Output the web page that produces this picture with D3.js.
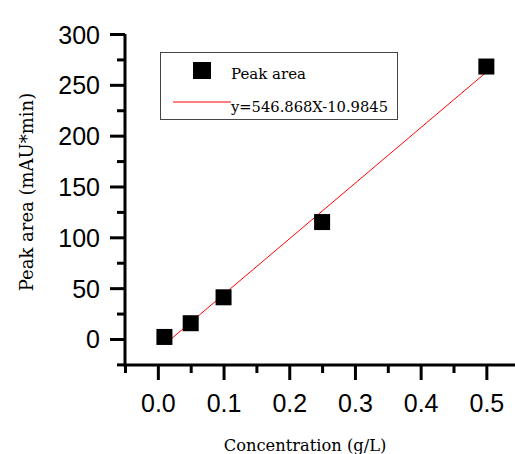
<!DOCTYPE html>
<html>
<head>
<meta charset="utf-8">
<script src="https://cdn.jsdelivr.net/npm/d3@7"></script>
<style>
  html, body { margin: 0; padding: 0; background: #fff; }
  svg { display: block; }
</style>
</head>
<body>
<svg id="chart" width="515" height="454"></svg>
<script>
// Calibration data: concentration (g/L) vs peak area (mAU*min)
const concentration = [0.01, 0.05, 0.10, 0.25, 0.50];
const peakArea = [2, 15.5, 41, 115, 268];
// Linear fit y = slope * x + intercept
const fitSlope = 546.868;
const fitIntercept = -10.9845;
const fitRange = [0.01, 0.50];
const xTicks = [0.0, 0.1, 0.2, 0.3, 0.4, 0.5];
const xMinorTicks = [-0.05, 0.05, 0.15, 0.25, 0.35, 0.45, 0.55];
const yTicks = [0, 50, 100, 150, 200, 250, 300];
const yMinorTicks = [-25, 25, 75, 125, 175, 225, 275];
const legendLabels = ["Peak area", "y=546.868X-10.9845"];

const svg = d3.select("#chart");
const axisX0 = 125, axisY0 = 365;

const x = d3.scaleLinear().domain([-0.05, 0.55]).range([axisX0, axisX0 + 0.6 * 657]);
const y = d3.scaleLinear().domain([-25.6, 300]).range([axisY0, 34]);

const numFont = "'Liberation Sans', Arial, sans-serif";
const serifFont = "'DejaVu Serif', serif";

// X axis
const gx = svg.append("g").attr("transform", `translate(0,${axisY0})`);
gx.call(d3.axisBottom(x).tickValues(xTicks).tickSize(15).tickSizeOuter(0).tickPadding(14)
  .tickFormat(d3.format(".1f")));
gx.append("g").call(d3.axisBottom(x).tickValues(xMinorTicks).tickSize(8).tickFormat(""))
  .select(".domain").remove();
gx.selectAll("path.domain").attr("stroke-width", 3).attr("d", `M${axisX0},0H515`);
gx.selectAll(".tick line").attr("stroke-width", 3);
gx.selectAll(".tick text").attr("font-family", numFont).attr("font-size", 25).attr("fill", "#000");

// Y axis
const gy = svg.append("g").attr("transform", `translate(${axisX0},0)`);
gy.call(d3.axisLeft(y).tickValues(yTicks).tickSize(15).tickSizeOuter(0).tickPadding(10));
gy.append("g").call(d3.axisLeft(y).tickValues(yMinorTicks).tickSize(8).tickFormat(""))
  .select(".domain").remove();
gy.selectAll("path.domain").attr("stroke-width", 3).attr("d", `M0,${y(300)}V${axisY0 + 1.5}`);
gy.selectAll(".tick line").attr("stroke-width", 3);
gy.selectAll(".tick text").attr("font-family", numFont).attr("font-size", 25).attr("fill", "#000")
  .attr("dy", "0.36em");

// Axis titles
svg.append("text")
  .attr("x", 305).attr("y", 451)
  .attr("text-anchor", "middle")
  .attr("font-family", serifFont).attr("font-size", 16.3)
  .text("Concentration (g/L)");
svg.append("text")
  .attr("transform", `translate(33,192) rotate(-90)`)
  .attr("text-anchor", "middle")
  .attr("font-family", serifFont).attr("font-size", 18)
  .text("Peak area (mAU*min)");

// Fit line
svg.append("line")
  .attr("x1", x(fitRange[0])).attr("y1", y(fitSlope * fitRange[0] + fitIntercept))
  .attr("x2", x(fitRange[1])).attr("y2", y(fitSlope * fitRange[1] + fitIntercept))
  .attr("stroke", "#ff0000").attr("stroke-width", 1);

// Data points
const sq = 16;
svg.append("g").selectAll("rect")
  .data(concentration.map((c, i) => [c, peakArea[i]]))
  .join("rect")
  .attr("x", d => x(d[0]) - sq / 2)
  .attr("y", d => y(d[1]) - sq / 2)
  .attr("width", sq).attr("height", sq)
  .attr("fill", "#000");

// Legend
const lg = svg.append("g");
lg.append("rect").attr("x", 160.5).attr("y", 52.5).attr("width", 237).attr("height", 67)
  .attr("fill", "#fff").attr("stroke", "#444").attr("stroke-width", 1);
lg.append("rect").attr("x", 193).attr("y", 62).attr("width", 18).attr("height", 17).attr("fill", "#000");
lg.append("text").attr("x", 231).attr("y", 79)
  .attr("font-family", serifFont).attr("font-size", 15).text(legendLabels[0]);
lg.append("line").attr("x1", 173).attr("x2", 231).attr("y1", 102).attr("y2", 102)
  .attr("stroke", "#ff0000").attr("stroke-width", 1);
lg.append("text").attr("x", 231).attr("y", 112)
  .attr("font-family", serifFont).attr("font-size", 14.7).text(legendLabels[1]);
</script>
</body>
</html>
